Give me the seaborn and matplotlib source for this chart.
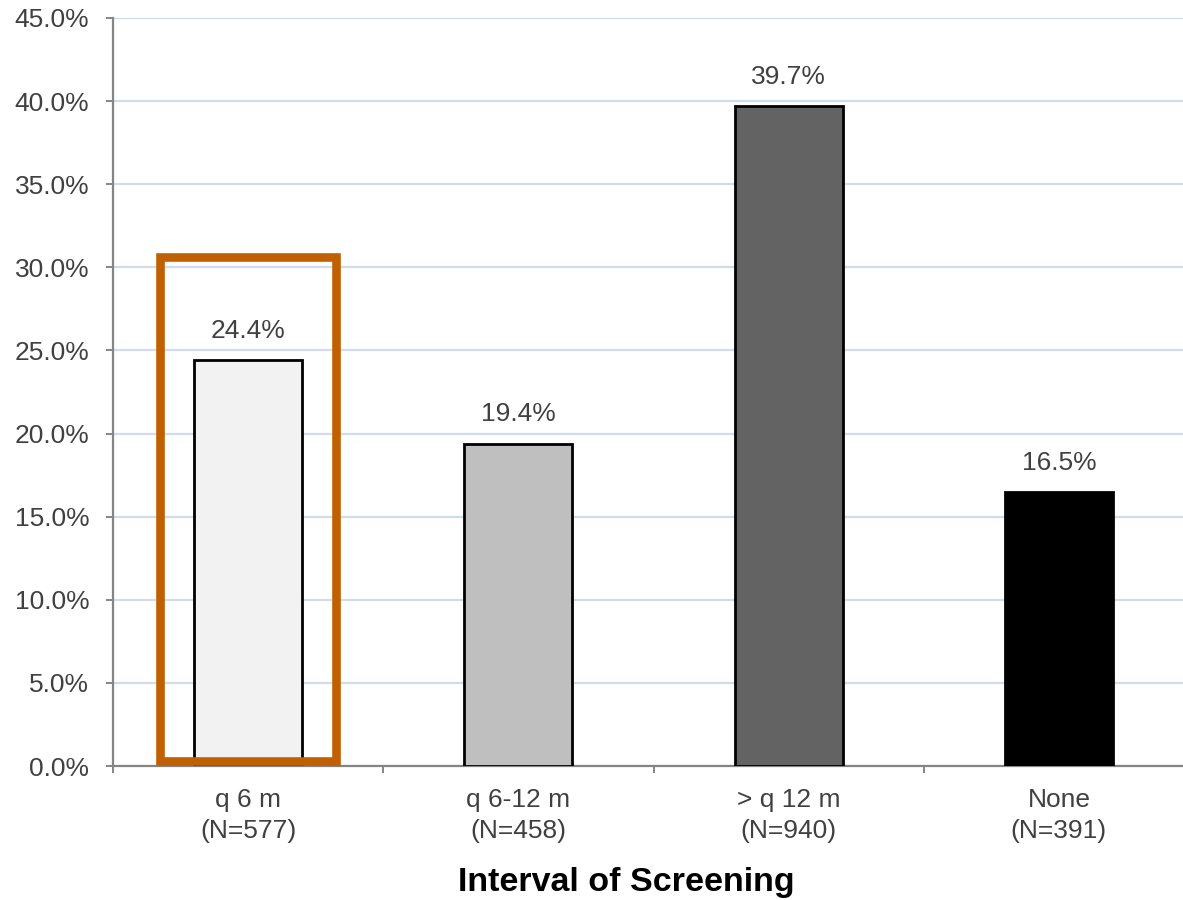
import matplotlib
matplotlib.use("Agg")
import matplotlib.pyplot as plt
from matplotlib.patches import Rectangle
import seaborn as sns
import pandas as pd

# Share of patients per screening interval
intervals = ["q 6 m", "q 6-12 m", "> q 12 m", "None"]
counts = [577, 458, 940, 391]
percent = [24.4, 19.4, 39.7, 16.5]
bar_colors = ["#F2F2F2", "#BFBFBF", "#636363", "#000000"]
y_ticks = [0, 5, 10, 15, 20, 25, 30, 35, 40, 45]

# Highlight frame around the first group (percent range it spans)
highlight_low, highlight_high = 0.3, 30.6

sns.set_theme(style="white")
plt.rcParams["font.family"] = ["Liberation Sans", "DejaVu Sans"]

labels = [f"{name}\n(N={n})" for name, n in zip(intervals, counts)]
df = pd.DataFrame({"interval": labels, "percent": percent})

fig = plt.figure(figsize=(11.83, 9.0), dpi=100)
ax = fig.add_axes([113 / 1183, 134 / 900, (1194 - 113) / 1183, (766 - 18) / 900])

sns.barplot(data=df, x="interval", y="percent", hue="interval",
            palette=bar_colors, width=0.4, edgecolor="black",
            linewidth=2.0, legend=False, ax=ax, zorder=3)

ax.set_xlim(-0.5, 3.5)
ax.set_ylim(0, 45)
ax.set_yticks(y_ticks)
ax.set_yticklabels([f"{v:.1f}%" for v in y_ticks])

ax.set_axisbelow(True)
ax.yaxis.grid(True, color="#D0DBEC", linewidth=1.6)
ax.xaxis.grid(False)

for side in ("top", "right"):
    ax.spines[side].set_visible(False)
for side in ("left", "bottom"):
    ax.spines[side].set_color("#858585")
    ax.spines[side].set_linewidth(1.6)

ax.tick_params(axis="y", which="major", direction="out", length=5,
               width=1.4, color="#858585", pad=12, labelsize=19,
               labelcolor="#404040", left=True)
ax.tick_params(axis="x", which="major", length=0, pad=16,
               labelsize=19, labelcolor="#404040")
ax.set_xticks([-0.5, 0.5, 1.5, 2.5, 3.5], minor=True)
ax.tick_params(axis="x", which="minor", direction="out", length=5,
               width=1.4, color="#858585", bottom=True)
for t in ax.get_xticklabels():
    t.set_linespacing(1.35)

ax.set_xlabel("")
ax.set_ylabel("")

# Value labels above each bar
for i, v in enumerate(percent):
    ax.annotate(f"{v:.1f}%", xy=(i, v), xytext=(0, 21),
                textcoords="offset points", ha="center", va="center",
                fontsize=19, color="#404040")

# Frame around the first category
ax.add_patch(Rectangle((0 - 0.325, highlight_low), 0.65,
                       highlight_high - highlight_low, fill=False,
                       edgecolor="#C06000", linewidth=6.2, zorder=5,
                       clip_on=False))

fig.text(626 / 1183, 1 - 882 / 900, "Interval of Screening",
         ha="center", va="center", fontsize=24.5, fontweight="bold",
         color="black")

fig.savefig("out.png", dpi=100, facecolor="white")
